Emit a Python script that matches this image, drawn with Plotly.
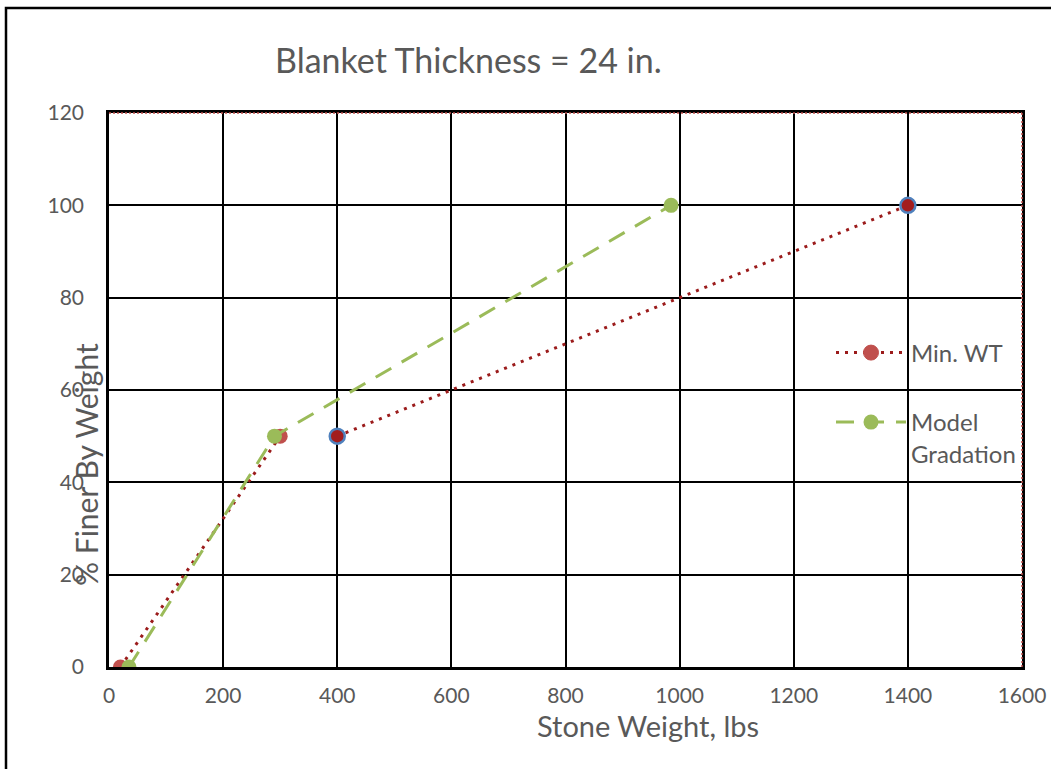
import plotly.graph_objects as go

# Minimum weight gradation (gap between the 300 and 400 lb points)
min_wt_x = [20, 300, None, 400, 1400]
min_wt_y = [0, 50, None, 50, 100]

# Model gradation
model_x = [35, 290, 985]
model_y = [0, 50, 100]

x_ticks = [0, 200, 400, 600, 800, 1000, 1200, 1400, 1600]
y_ticks = [0, 20, 40, 60, 80, 100, 120]

RED_LINE = "#9b1b1b"
RED_MARK = "#c0504d"
GREEN = "#9bbb59"
BLUE = "#4f81bd"
GRAY = "#595959"
FONT = "Lato"

# plot-area geometry in pixels
L, R, T, B = 109, 1022, 113, 667
W, H = R - L, B - T


def px_x(p):
    return (p - L) / W


def px_y(p):
    return (B - p) / H


fig = go.Figure()

fig.add_trace(go.Scatter(
    x=min_wt_x, y=min_wt_y, name="Min. WT", mode="lines+markers",
    line=dict(color=RED_LINE, width=3, dash="3px,6px"),
    marker=dict(color=[RED_MARK, RED_MARK, RED_MARK, "#a31d1d", "#a31d1d"], size=15,
                line=dict(color=[RED_MARK, RED_MARK, RED_MARK, BLUE, BLUE], width=[0, 0, 0, 2.5, 2.5])),
    connectgaps=False, legend="legend",
))

fig.add_trace(go.Scatter(
    x=model_x, y=model_y, name="Model<br>Gradation", mode="lines+markers",
    line=dict(color=GREEN, width=3, dash="18px,12px"),
    marker=dict(color=GREEN, size=15),
    connectgaps=False, legend="legend2",
))

legend_common = dict(
    xanchor="left", bgcolor="rgba(0,0,0,0)",
    font=dict(size=24, color=GRAY, family=FONT), itemwidth=70,
)

fig.update_layout(
    width=1051, height=769,
    paper_bgcolor="white", plot_bgcolor="white",
    margin=dict(l=L, r=1051 - R, t=T, b=769 - B, autoexpand=False),
    font=dict(family=FONT, color=GRAY),
    showlegend=True,
    legend=dict(x=px_x(831), y=px_y(353), yanchor="middle", **legend_common),
    legend2=dict(x=px_x(831), y=px_y(400), yanchor="top", valign="top", **legend_common),
    xaxis=dict(
        range=[0, 1600], tickvals=x_ticks, showgrid=True, gridcolor="black", gridwidth=2,
        zeroline=False, showline=True, linecolor="black", linewidth=2.5, mirror=True,
        ticks="", tickfont=dict(size=21, color=GRAY, family=FONT), ticklabelstandoff=8,
        automargin=False,
    ),
    yaxis=dict(
        range=[0, 120], tickvals=y_ticks, showgrid=True, gridcolor="black", gridwidth=2,
        zeroline=False, showline=True, linecolor="black", linewidth=2.5, mirror=True,
        ticks="", tickfont=dict(size=21, color=GRAY, family=FONT), ticklabelstandoff=18,
        automargin=False,
    ),
    annotations=[
        dict(text="Blanket Thickness = 24 in.", x=px_x(468), y=px_y(60),
             xref="paper", yref="paper", xanchor="center", yanchor="middle",
             showarrow=False, font=dict(size=34, color=GRAY, family=FONT)),
        dict(text="Stone Weight, lbs", x=px_x(648), y=px_y(725), xref="paper", yref="paper",
             xanchor="center", yanchor="middle", showarrow=False,
             font=dict(size=29, color=GRAY, family=FONT)),
        dict(text="% Finer By Weight", x=px_x(86), y=px_y(465), xref="paper", yref="paper",
             xanchor="center", yanchor="middle", textangle=-90, showarrow=False,
             font=dict(size=30, color=GRAY, family=FONT)),
    ],
    shapes=[
        # red dotted overlay on the top and right frame edges
        dict(type="line", xref="paper", yref="paper", x0=0, x1=1, y0=1, y1=1,
             line=dict(color=RED_MARK, width=1.5, dash="2px,2px")),
        dict(type="line", xref="paper", yref="paper", x0=1, x1=1, y0=0, y1=1,
             line=dict(color=RED_MARK, width=1.5, dash="2px,2px")),
        # outer chart border
        dict(type="rect", xref="paper", yref="paper",
             x0=px_x(6), x1=px_x(1070), y0=px_y(800), y1=px_y(8),
             line=dict(color="black", width=2.5)),
    ],
)

fig.write_html("out.html")
